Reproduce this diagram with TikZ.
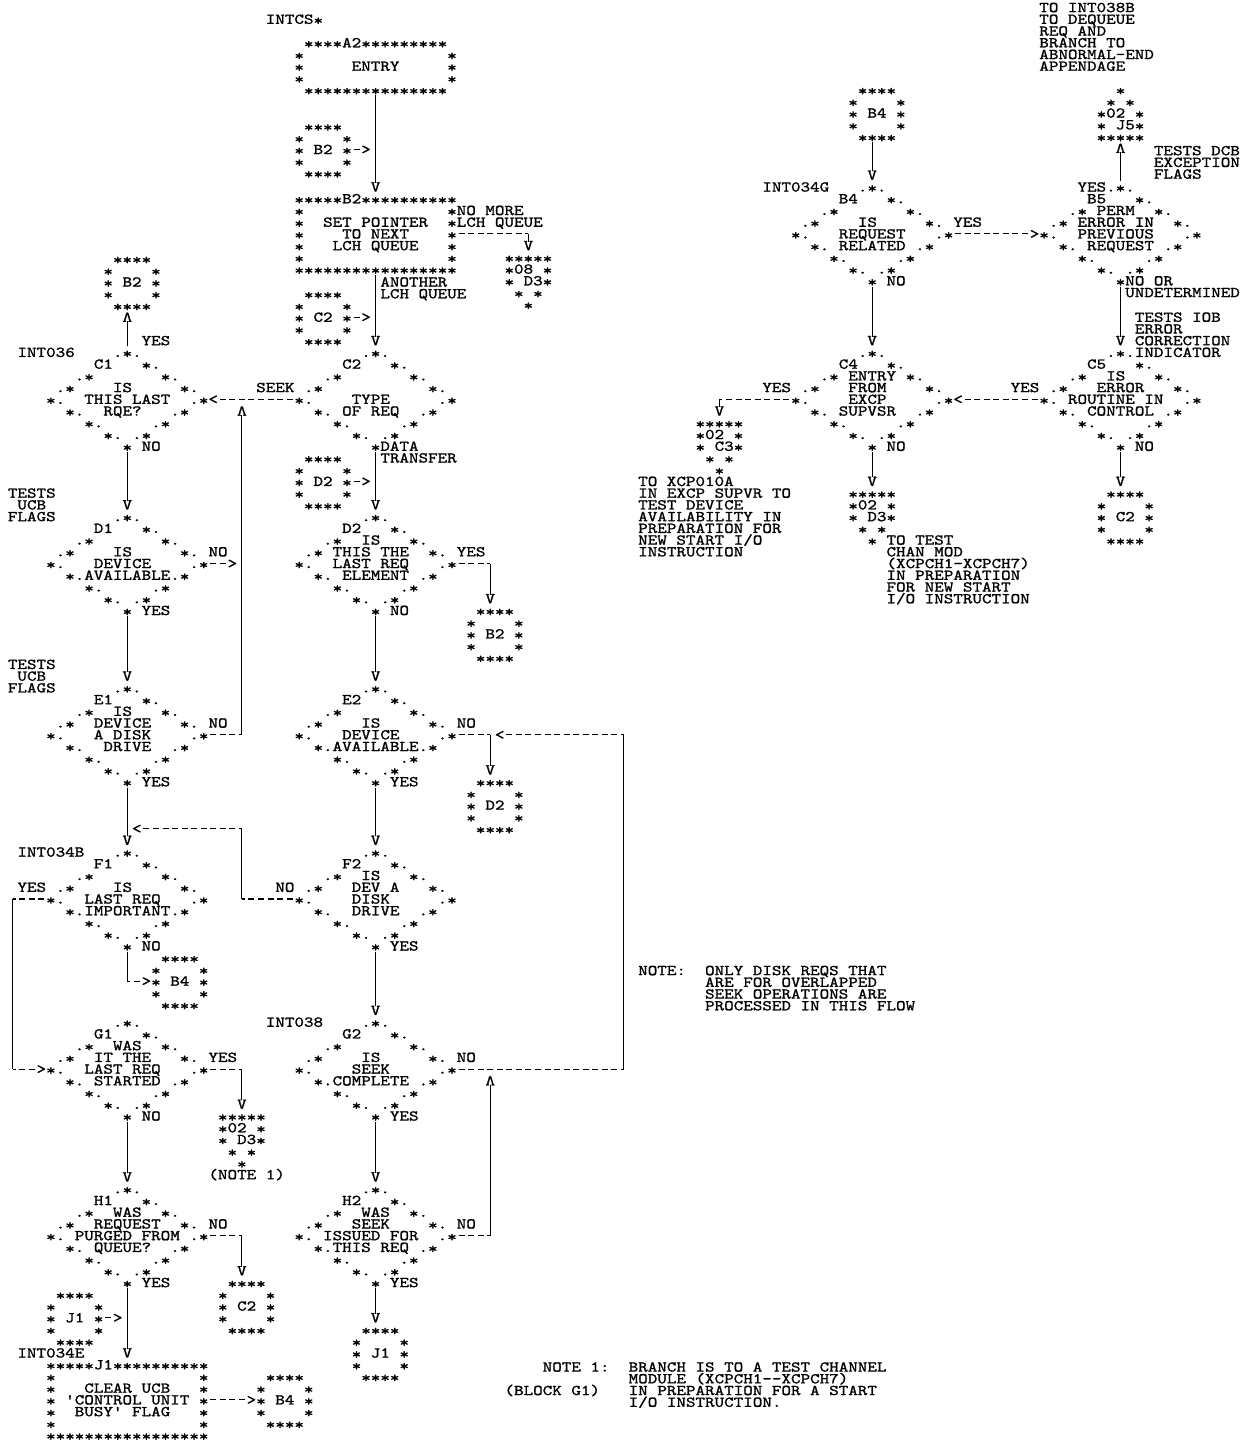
\documentclass[tikz,border=0pt]{standalone}
\usepackage{graphicx}
\font\prt="[lmmono10-regular]:extend=1.2127;embolden=1.2" at 15pt
\setbox0\hbox{\prt M}
\fontdimen2\prt=\wd0
\fontdimen3\prt=0pt
\fontdimen4\prt=0pt
\frenchspacing
\newcount\tcnt
\newcommand\lo[1]{\raisebox{-1.5pt}{#1}}
\newcommand\sr{\lo{*}}
\tikzset{
 tx/.style={anchor=base west,inner sep=0pt,outer sep=0pt,font=\prt,text height=8.4pt,text depth=0.6pt,xshift=-4.775pt,yshift=-4.6pt},
 chr/.style={anchor=base,inner sep=0pt,outer sep=0pt,font=\prt,text height=8.4pt,text depth=0.6pt,yshift=-4.6pt},
 vch/.style={anchor=center,inner sep=0pt,outer sep=0pt,font=\prt},
 lam/.style={vch,rotate=180},
 blk/.style={draw=none,inner sep=0pt,outer sep=0pt,minimum width=#1},
 vl/.style={line width=1.1pt},
 hd/.style={line width=1.1pt,dash pattern=on 6pt off 3.55pt,dash phase=7.77pt},
 hdc/.style={line width=1.1pt,dash pattern=on 6pt off 3.55pt,dash phase=2.995pt}
}
\newcommand\Tx[3]{\global\advance\tcnt by 1 \node[tx] (t\the\tcnt) at (#1,#2) {#3};}
\newcommand\Ch[3]{\global\advance\tcnt by 1 \node[chr] (t\the\tcnt) at (#1,#2) {#3};}
\newcommand\Lam[2]{\global\advance\tcnt by 1 \node[lam] (t\the\tcnt) at (#1,#2) {V};}
\newcommand\Vto[2]{\draw[vl] (#1) -- ([yshift=9.8pt]#1 |- #2);\global\advance\tcnt by 1 \node[vch] (t\the\tcnt) at ([yshift=5.865pt]#1 |- #2) {V};}
\newcommand\Lup[2]{\draw[vl] (#1) -- ([yshift=-9.8pt]#1 |- #2);\global\advance\tcnt by 1 \node[lam] (t\the\tcnt) at ([yshift=-5.865pt]#1 |- #2) {V};}
% diamond: name, centre column, top row, label
\newcommand\Dia[4]{%
 \node[blk=162.35pt,minimum height=105.57pt] (#1) at (#2,#3+4) {};
 \Tx{#2-1}{#3}{.\sr.}
 \Tx{#2-3}{#3+1}{#4}\Tx{#2+2}{#3+1}{\sr.}
 \Tx{#2-5}{#3+2}{.\sr}\Tx{#2+4}{#3+2}{\sr.}
 \Tx{#2-7}{#3+3}{.\sr}\Tx{#2+6}{#3+3}{\sr.}
 \Tx{#2-8}{#3+4}{\sr.}\Tx{#2+7}{#3+4}{.\sr}
 \Tx{#2-6}{#3+5}{\sr.}\Tx{#2+5}{#3+5}{.\sr}
 \Tx{#2-4}{#3+6}{\sr.}\Tx{#2+3}{#3+6}{.\sr}
 \Tx{#2-2}{#3+7}{\sr.}\Tx{#2+1}{#3+7}{.\sr}
 \Tx{#2}{#3+8}{\sr}}
% process box
\newcommand\Proc[4]{%
 \node[blk=162.35pt,minimum height=82.11pt] (#1) at (#2,#3+3) {};
 \Tx{#2-8}{#3}{\lo{*****}#4\lo{**********}}
 \foreach \k in {1,...,5}{\Tx{#2-8}{#3+\k}{\sr}\Tx{#2+8}{#3+\k}{\sr}}
 \Tx{#2-8}{#3+6}{\lo{*****************}}}
% terminal
\newcommand\Term[4]{%
 \node[blk=162.35pt,minimum height=58.65pt] (#1) at (#2,#3+2) {};
 \Tx{#2-7}{#3}{\lo{****}#4\lo{*********}}
 \foreach \k in {1,2,3}{\Tx{#2-8}{#3+\k}{\sr}\Tx{#2+8}{#3+\k}{\sr}}
 \Tx{#2-7}{#3+4}{\lo{***************}}}
% on-page connector
\newcommand\Conn[4]{%
 \node[blk=57.3pt,minimum height=58.65pt] (#1) at (#2+2.5,#3+2) {};
 \Tx{#2+1}{#3}{\lo{****}}
 \Tx{#2}{#3+1}{\sr}\Tx{#2+5}{#3+1}{\sr}
 \Tx{#2}{#3+2}{\sr}\Tx{#2+2}{#3+2}{#4}\Tx{#2+5}{#3+2}{\sr}
 \Tx{#2}{#3+3}{\sr}\Tx{#2+5}{#3+3}{\sr}
 \Tx{#2+1}{#3+4}{\lo{****}}}
% off-page connector (down)
\newcommand\Offd[5]{%
 \node[blk=47.75pt,minimum height=58.65pt] (#1) at (#2+2,#3+2) {};
 \Tx{#2}{#3}{\lo{*****}}
 \Tx{#2}{#3+1}{\sr#4}\Tx{#2+4}{#3+1}{\sr}
 \Tx{#2}{#3+2}{\sr}\Tx{#2+2}{#3+2}{#5\sr}
 \Tx{#2+1}{#3+3}{\sr}\Tx{#2+3}{#3+3}{\sr}
 \Tx{#2+2}{#3+4}{\sr}}
% off-page connector (up)
\newcommand\Offu[5]{%
 \node[blk=47.75pt,minimum height=58.65pt] (#1) at (#2+2,#3+2) {};
 \Tx{#2+2}{#3}{\sr}
 \Tx{#2+1}{#3+1}{\sr}\Tx{#2+3}{#3+1}{\sr}
 \Tx{#2}{#3+2}{\sr#4}\Tx{#2+4}{#3+2}{\sr}
 \Tx{#2}{#3+3}{\sr}\Tx{#2+2}{#3+3}{#5\sr}
 \Tx{#2}{#3+4}{\lo{*****}}}
\begin{document}
\begin{tikzpicture}[x=9.55pt,y=-11.73pt]
\useasboundingbox (-0.32984,-0.63939) rectangle (129.618,122.294);
\fill[white] (-0.32984,-0.63939) rectangle (129.618,122.294);
% ===== centre column top
\Tx{28}{1}{INTCS\sr}
\Term{ENT}{39}{3}{A2}
\Tx{37}{5}{ENTRY}
\Conn{B2a}{31}{10.1}{B2}
\draw[hd] (B2a.east) -- ++(1,0); \Ch{38}{12.1}{>}
\Proc{B2}{39}{16.3}{B2}
\Vto{ENT.south}{B2.north}
\Tx{48}{17.3}{NO MORE}\Tx{48}{18.3}{LCH QUEUE}
\Tx{34}{18.3}{SET POINTER}\Tx{36}{19.3}{TO NEXT}\Tx{35}{20.3}{LCH QUEUE}
\Offd{P08}{53}{21.3}{08}{D3}
\draw[hd] (B2.east) -- (55,19.3);
\Vto{55,19.3}{P08.north}
\Tx{40}{23.4}{ANOTHER}\Tx{40}{24.4}{LCH QUEUE}
\Conn{C2a}{31}{24.4}{C2}
\draw[hd] (C2a.east) -- ++(1,0); \Ch{38}{26.4}{>}
\Dia{C2}{39}{29.4}{C2}
\Vto{B2.south}{C2.north}
\Tx{37}{33.4}{TYPE}\Tx{36}{34.4}{OF REQ}\Tx{27}{32.4}{SEEK}
\Tx{40}{37.4}{DATA}\Tx{40}{38.4}{TRANSFER}
\Conn{D2a}{31}{38.4}{D2}
\draw[hd] (D2a.east) -- ++(1,0); \Ch{38}{40.4}{>}
\Dia{D2}{39}{43.4}{D2}
\Vto{C2.south}{D2.north}
\Tx{38}{45.4}{IS}\Tx{35}{46.4}{THIS THE}\Tx{35}{47.4}{LAST REQ}\Tx{36}{48.4}{ELEMENT}
\Tx{48}{46.4}{YES}\Tx{41}{51.4}{NO}
\Conn{B2r}{49}{51.4}{B2}
\draw[hd] (D2.east) -- (51,47.4);
\Vto{51,47.4}{B2r.north}
\Dia{E2}{39}{58}{E2}
\Vto{D2.south}{E2.north}
\Tx{38}{61}{IS}\Tx{36}{62}{DEVICE}\Tx{35}{63}{AVAILABLE}\Tx{48}{61}{NO}\Tx{41}{66}{YES}
\Conn{D2r}{49}{66}{D2}
\draw[hd] (E2.east) -- (51,62);
\Vto{51,62}{D2r.north}
\Ch{52}{62}{<}
\draw[hd] (52.5,62) -- (65,62);
\draw[vl] (65,62) -- (65,90.5);
\Dia{F2}{39}{72}{F2}
\Vto{E2.south}{F2.north}
\Tx{38}{74}{IS}\Tx{37}{75}{DEV A}\Tx{37}{76}{DISK}\Tx{37}{77}{DRIVE}\Tx{29}{75}{NO}\Tx{41}{80}{YES}
\Ch{14}{70}{<}
\draw[hd] (14.5,70) -- (25,70);
\draw[vl] (25,70) -- (25,76);
\draw[hdc] (25,76) -- (F2.west);
\Dia{G2}{39}{86.5}{G2}
\Vto{F2.south}{G2.north}
\Tx{28}{86.5}{INT038}
\Tx{38}{89.5}{IS}\Tx{37}{90.5}{SEEK}\Tx{35}{91.5}{COMPLETE}\Tx{48}{89.5}{NO}\Tx{41}{94.5}{YES}
\draw[hd] (G2.east) -- (65,90.5);
\Dia{H2}{39}{100.7}{H2}
\Vto{G2.south}{H2.north}
\Tx{38}{102.7}{WAS}\Tx{37}{103.7}{SEEK}\Tx{34}{104.7}{ISSUED FOR}\Tx{35}{105.7}{THIS REQ}
\Tx{48}{103.7}{NO}\Tx{41}{108.7}{YES}
\draw[hd] (H2.east) -- (51,104.7);
\draw[vl] (51,104.7) -- (51,91.85);
\Lam{51}{91.5}
\Conn{J1b}{37}{112.7}{J1}
\Vto{H2.south}{J1b.north}
% ===== left column
\Conn{B2c}{11}{21.4}{B2}
\Dia{C1}{13}{29.4}{C1}
\Lup{C1.north}{B2c.south}
\Tx{15}{28.4}{YES}\Tx{2}{29.4}{INT036}
\Tx{12}{32.4}{IS}\Tx{9}{33.4}{THIS LAST}\Tx{11}{34.4}{RQE?}\Tx{15}{37.4}{NO}
\Ch{22}{33.4}{<}
\draw[hd] (22.5,33.4) -- (C2.west);
\Lam{25}{34.4}
\Dia{D1}{13}{43.4}{D1}
\Vto{C1.south}{D1.north}
\Tx{1}{41.4}{TESTS}\Tx{2}{42.4}{UCB}\Tx{1}{43.4}{FLAGS}
\Tx{12}{46.4}{IS}\Tx{10}{47.4}{DEVICE}\Tx{9}{48.4}{AVAILABLE}\Tx{22}{46.4}{NO}\Tx{15}{51.4}{YES}
\draw[hd] (D1.east) -- ++(2,0); \Ch{24}{47.4}{>}
\Dia{E1}{13}{58}{E1}
\Vto{D1.south}{E1.north}
\Tx{1}{56}{TESTS}\Tx{2}{57}{UCB}\Tx{1}{58}{FLAGS}
\Tx{12}{60}{IS}\Tx{10}{61}{DEVICE}\Tx{10}{62}{A DISK}\Tx{11}{63}{DRIVE}\Tx{22}{61}{NO}\Tx{15}{66}{YES}
\draw[hd] (E1.east) -- (25,62);
\draw[vl] (25,62) -- (25,34.75);
\Dia{F1}{13}{72}{F1}
\Vto{E1.south}{F1.north}
\Tx{2}{72}{INT034B}
\Tx{12}{75}{IS}\Tx{9}{76}{LAST REQ}\Tx{9}{77}{IMPORTANT}\Tx{2}{75}{YES}\Tx{15}{80}{NO}
\draw[hdc] (1,76) -- (F1.west);
\draw[vl] (1,76) -- (1,90.5);
\draw[hdc] (1,90.5) -- (3.5,90.5); \Ch{4}{90.5}{>}
\Conn{B4b}{16}{81}{B4}
\draw[vl] (F1.south) -- (13,83);
\draw[hdc] (13,83) -- (14.5,83); \Ch{15}{83}{>}
\Dia{G1}{13}{86.5}{G1}
\Tx{12}{88.5}{WAS}\Tx{10}{89.5}{IT THE}\Tx{9}{90.5}{LAST REQ}\Tx{10}{91.5}{STARTED}
\Tx{22}{89.5}{YES}\Tx{15}{94.5}{NO}
\Offd{P02a}{23}{94.5}{02}{D3}
\draw[hd] (G1.east) -- (25,90.5);
\Vto{25,90.5}{P02a.north}
\Tx{22}{99.5}{(NOTE 1)}
\Dia{H1}{13}{100.7}{H1}
\Vto{G1.south}{H1.north}
\Tx{12}{102.7}{WAS}\Tx{10}{103.7}{REQUEST}\Tx{8}{104.7}{PURGED FROM}\Tx{10}{105.7}{QUEUE?}
\Tx{22}{103.7}{NO}\Tx{15}{108.7}{YES}
\Conn{C2h}{23}{108.7}{C2}
\draw[hd] (H1.east) -- (25,104.7);
\Vto{25,104.7}{C2h.north}
\Conn{J1a}{5}{109.7}{J1}
\draw[hd] (J1a.east) -- ++(1,0); \Ch{12}{111.7}{>}
\Proc{J1}{13}{115.7}{J1}
\Vto{H1.south}{J1.north}
\Tx{2}{114.7}{INT034E}
\Tx{9}{117.7}{CLEAR UCB}\Tx{7}{118.7}{'CONTROL UNIT}\Tx{8}{119.7}{BUSY' FLAG}
\Conn{B4c}{27}{116.7}{B4}
\draw[hd] (J1.east) -- ++(4,0); \Ch{26}{118.7}{>}
% ===== notes
\Tx{67}{82.1}{NOTE:}\Tx{74}{82.1}{ONLY DISK REQS THAT}\Tx{74}{83.1}{ARE FOR OVERLAPPED}
\Tx{74}{84.1}{SEEK OPERATIONS ARE}\Tx{74}{85.1}{PROCESSED IN THIS FLOW}
\Tx{57}{115.9}{NOTE 1:}\Tx{66}{115.9}{BRANCH IS TO A TEST CHANNEL}
\Tx{66}{116.9}{MODULE (XCPCH1--XCPCH7)}
\Tx{53}{117.9}{(BLOCK G1)}\Tx{66}{117.9}{IN PREPARATION FOR A START}
\Tx{66}{118.9}{I/O INSTRUCTION.}
% ===== right section
\Tx{109}{0}{TO INT038B}\Tx{109}{1}{TO DEQUEUE}\Tx{109}{2}{REQ AND}
\Tx{109}{3}{BRANCH TO}\Tx{109}{4}{ABNORMAL-END}\Tx{109}{5}{APPENDAGE}
\Conn{B4a}{89}{7}{B4}
\Offu{J5}{115}{7}{02}{J5}
\Dia{B4}{91}{15.3}{B4}
\coordinate (b4s) at (B4.north |- B4a.south);
\Vto{b4s}{B4.north}
\Tx{80}{15.3}{INT034G}
\Tx{90}{18.3}{IS}\Tx{88}{19.3}{REQUEST}\Tx{88}{20.3}{RELATED}\Tx{100}{18.3}{YES}\Tx{93}{23.3}{NO}
\Dia{B5}{117}{15.3}{B5}
\Lup{B5.north}{J5.south}
\Tx{113}{15.3}{YES}\Tx{115}{17.3}{PERM}\Tx{113}{18.3}{ERROR IN}\Tx{113}{19.3}{PREVIOUS}\Tx{114}{20.3}{REQUEST}
\Tx{118}{23.3}{NO OR}\Tx{118}{24.3}{UNDETERMINED}
\Tx{121}{12.2}{TESTS DCB}\Tx{121}{13.2}{EXCEPTION}\Tx{121}{14.2}{FLAGS}
\draw[hd] (B4.east) -- ++(8,0); \Ch{108}{19.3}{>}
\Dia{C4}{91}{29.4}{C4}
\Vto{B4.south}{C4.north}
\Dia{C5}{117}{29.4}{C5}
\Vto{B5.south}{C5.north}
\Tx{119}{26.4}{TESTS IOB}\Tx{119}{27.4}{ERROR}\Tx{119}{28.4}{CORRECTION}\Tx{119}{29.4}{INDICATOR}
\Tx{116}{31.4}{IS}\Tx{115}{32.4}{ERROR}\Tx{112}{33.4}{ROUTINE IN}\Tx{114}{34.4}{CONTROL}
\Tx{106}{32.4}{YES}\Tx{119}{37.4}{NO}
\Tx{89}{31.4}{ENTRY}\Tx{89}{32.4}{FROM}\Tx{89}{33.4}{EXCP}\Tx{88}{34.4}{SUPVSR}
\Tx{80}{32.4}{YES}\Tx{93}{37.4}{NO}
\Ch{100}{33.4}{<}
\draw[hd] (100.5,33.4) -- (C5.west);
\Offd{P02b}{73}{35.4}{02}{C3}
\draw[hdc] (75,33.4) -- (C4.west);
\Vto{75,33.4}{P02b.north}
\Tx{67}{40.4}{TO XCP010A}\Tx{67}{41.4}{IN EXCP SUPVR TO}\Tx{67}{42.4}{TEST DEVICE}
\Tx{67}{43.4}{AVAILABILITY IN}\Tx{67}{44.4}{PREPARATION FOR}\Tx{67}{45.4}{NEW START I/O}
\Tx{67}{46.4}{INSTRUCTION}
\Offd{P02c}{89}{41.4}{02}{D3}
\Vto{C4.south}{P02c.north}
\Tx{93}{45.4}{TO TEST}\Tx{93}{46.4}{CHAN MOD}\Tx{93}{47.4}{(XCPCH1-XCPCH7)}
\Tx{93}{48.4}{IN PREPARATION}\Tx{93}{49.4}{FOR NEW START}\Tx{93}{50.4}{I/O INSTRUCTION}
\Conn{C2r}{115}{41.4}{C2}
\Vto{C5.south}{C2r.north}
\end{tikzpicture}
\end{document}
